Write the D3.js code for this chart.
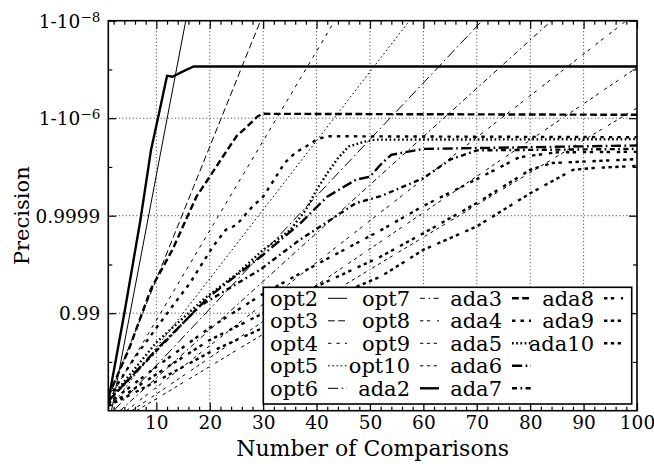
<!DOCTYPE html>
<html>
<head>
<meta charset="utf-8">
<script src="https://cdn.jsdelivr.net/npm/d3@7"></script>
<style>
body { margin: 0; background: #fff; }
svg { display: block; }
text { font-family: "DejaVu Serif", serif; fill: #000; }
</style>
</head>
<body>
<div class="chartfield"></div>
<script>
// x = number of comparisons, y = -log10(1 - precision)
var xTicks = [10, 20, 30, 40, 50, 60, 70, 80, 90, 100];
var xMinor = [2, 4, 6, 8, 12, 14, 16, 18, 22, 24, 26, 28, 32, 34, 36, 38, 42, 44, 46, 48,
              52, 54, 56, 58, 62, 64, 66, 68, 72, 74, 76, 78, 82, 84, 86, 88, 92, 94, 96, 98];
var yTicks = [2, 4, 6, 8];
var yMinor = [1, 3, 5, 7];
var yTickBase = ["0.99", "0.9999", "1-10", "1-10"];
var yTickExp = ["", "", "\u22126", "\u22128"];

// opt lines (straight), [comparisons, -log10(1-precision)]
var opt2 = [[1.6, 0], [15.5, 8]];
var opt3 = [[1, 0.25], [29.5, 8]];
var opt4 = [[1, 0.2], [43.4, 8]];
var opt5 = [[1, 0.02], [57.4, 8]];
var opt6 = [[2, 0], [71, 8]];
var opt7 = [[3.2, 0], [84, 8]];
var opt8 = [[4.4, 0], [98, 8]];
var opt9 = [[5.4, 0], [100, 7.04]];
var opt10 = [[6.3, 0], [100, 6.21]];

// ada lines
var ada2 = [[1, 0.2], [4, 2.0], [7, 3.9], [9, 5.35], [10.5, 6.1], [12, 6.87], [13, 6.85], [15, 6.96], [17, 7.06], [100, 7.06]];
var ada3 = [[1, 0.3], [5, 1.3], [9, 2.5], [13, 3.3], [17.5, 4.39], [20, 4.8], [22.5, 5.22], [25, 5.63], [27, 5.83], [29, 6.04], [30, 6.09], [100, 6.07]];
var ada4 = [[1, 0.25], [6, 1.1], [12.5, 2.07], [16.3, 2.62], [20.6, 3.37], [23, 3.71], [25, 3.81], [28, 4.19], [30, 4.39], [32, 4.73], [34, 5.08], [36, 5.29], [38, 5.42], [40, 5.56], [42, 5.63], [100, 5.61]];
var ada5 = [[1, 0.2], [10, 1.4], [19, 2.3], [25, 2.8], [30, 3.3], [35, 3.7], [38, 4.12], [40, 4.53], [42, 4.87], [44, 5.18], [46, 5.42], [49, 5.52], [51, 5.56], [100, 5.57]];
var ada6 = [[1, 0.2], [10, 1.25], [20, 2.35], [30, 3.2], [37, 3.85], [42, 4.39], [47.4, 4.74], [50, 4.8], [52, 5.05], [54, 5.25], [60, 5.37], [100, 5.44]];
var ada7 = [[1, 0.2], [6, 0.77], [18, 2.14], [29.4, 2.89], [36.8, 3.5], [47.4, 4.26], [52, 4.4], [60, 4.77], [65, 5.15], [70, 5.34], [100, 5.37]];
var ada8 = [[1, 0.15], [10, 0.9], [20, 1.7], [30, 2.4], [40, 3.0], [52, 3.7], [60, 4.2], [70, 4.75], [78, 5.2], [85, 5.3], [100, 5.31]];
var ada9 = [[1, 0.1], [10, 0.75], [20, 1.45], [30, 2.0], [40, 2.55], [52, 3.16], [60, 3.64], [70, 4.26], [80, 4.94], [84, 5.08], [100, 5.16]];
var ada10 = [[1, 0.1], [10, 0.6], [20, 1.2], [30, 1.7], [40, 2.2], [52, 2.75], [60, 3.3], [70, 3.78], [80, 4.46], [88, 4.94], [92, 4.98], [100, 5.02]];

var names = ["opt2", "opt3", "opt4", "opt5", "opt6", "opt7", "opt8", "opt9", "opt10",
             "ada2", "ada3", "ada4", "ada5", "ada6", "ada7", "ada8", "ada9", "ada10"];
var series = [opt2, opt3, opt4, opt5, opt6, opt7, opt8, opt9, opt10,
              ada2, ada3, ada4, ada5, ada6, ada7, ada8, ada9, ada10];

var width = 654, height = 466;
var pLeft = 108.3, pRight = 637, pTop = 20.7, pBottom = 410.7;

// gnuplot style dash patterns, by k
var dashes = {
	2: null,
	3: "6.8,3.4",
	4: "3.4,5.1",
	5: "1.7,2.5",
	6: "10.2,3.4,1.7,3.4",
	7: "5.1,3.4,1.7,3.4",
	8: "3.4,3.4,3.4,6.8",
	9: "3.4,3.4,3.4,3.4,3.4,6.8",
	10: "3.4,3.4,3.4,3.4,3.4,3.4,3.4,6.8"
};
function kOf(name) { return +name.replace(/[a-z]/g, ""); }
function widthOf(name) { return name.indexOf("ada") == 0 ? 2.4 : 1; }

var x = d3.scaleLinear().domain([1, 100]).range([pLeft, pRight]);
var y = d3.scaleLinear().domain([0, 8]).range([pBottom, pTop]);

var svg = d3.select(".chartfield").append("svg")
	.attr("width", width)
	.attr("height", height);

svg.append("defs").append("clipPath").attr("id", "plotclip")
	.append("rect")
	.attr("x", pLeft).attr("y", pTop)
	.attr("width", pRight - pLeft).attr("height", pBottom - pTop);

// grid
var grid = svg.append("g").attr("stroke", "#000").attr("stroke-width", 0.8).attr("stroke-dasharray", "1,2.5");
grid.selectAll("line.gx").data(xTicks.slice(0, -1)).enter().append("line")
	.attr("class", "gx")
	.attr("x1", function(d) { return x(d); }).attr("x2", function(d) { return x(d); })
	.attr("y1", pTop).attr("y2", pBottom);
grid.selectAll("line.gy").data(yTicks.slice(0, -1)).enter().append("line")
	.attr("class", "gy")
	.attr("x1", pLeft).attr("x2", pRight)
	.attr("y1", function(d) { return y(d); }).attr("y2", function(d) { return y(d); });

// series
var line = d3.line().x(function(d) { return x(d[0]); }).y(function(d) { return y(d[1]); });
var plot = svg.append("g").attr("clip-path", "url(#plotclip)");
plot.selectAll("path").data(series).enter().append("path")
	.attr("d", line)
	.attr("fill", "none")
	.attr("stroke", "#000")
	.attr("stroke-width", function(d, i) { return widthOf(names[i]); })
	.attr("stroke-dasharray", function(d, i) { return dashes[kOf(names[i])]; });

// axes with inward ticks on all four sides
function noDomain(g) { g.select(".domain").remove(); g.selectAll(".tick line").attr("stroke-width", 1.2); }
svg.append("g").attr("transform", "translate(0," + pBottom + ")")
	.call(d3.axisBottom(x).tickValues(xTicks).tickSize(-8).tickPadding(5).tickFormat(d3.format("d")))
	.call(noDomain)
	.selectAll("text").attr("font-size", 18.5).attr("font-family", "DejaVu Serif");
svg.append("g").attr("transform", "translate(0," + pBottom + ")")
	.call(d3.axisBottom(x).tickValues(xMinor).tickSize(-4).tickFormat(""))
	.call(noDomain);
svg.append("g").attr("transform", "translate(0," + pTop + ")")
	.call(d3.axisTop(x).tickValues(xTicks).tickSize(-8).tickFormat(""))
	.call(noDomain);
svg.append("g").attr("transform", "translate(0," + pTop + ")")
	.call(d3.axisTop(x).tickValues(xMinor).tickSize(-4).tickFormat(""))
	.call(noDomain);

var yAxis = svg.append("g").attr("transform", "translate(" + pLeft + ",0)")
	.call(d3.axisLeft(y).tickValues(yTicks).tickSize(-8).tickPadding(8).tickFormat(""))
	.call(noDomain);
yAxis.selectAll(".tick text").each(function(d, i) {
	var t = d3.select(this)
		.attr("font-size", 18.5)
		.attr("font-family", "DejaVu Serif")
		.attr("dy", "0.36em");
	t.append("tspan").text(yTickBase[i]);
	if (yTickExp[i] != "") {
		t.append("tspan").attr("dy", "-0.45em").attr("font-size", 13.5).text(yTickExp[i]);
	}
});
svg.append("g").attr("transform", "translate(" + pLeft + ",0)")
	.call(d3.axisLeft(y).tickValues(yMinor).tickSize(-4).tickFormat(""))
	.call(noDomain);
svg.append("g").attr("transform", "translate(" + pRight + ",0)")
	.call(d3.axisRight(y).tickValues(yTicks).tickSize(-8).tickFormat(""))
	.call(noDomain);
svg.append("g").attr("transform", "translate(" + pRight + ",0)")
	.call(d3.axisRight(y).tickValues(yMinor).tickSize(-4).tickFormat(""))
	.call(noDomain);

// frame
svg.append("rect")
	.attr("x", pLeft).attr("y", pTop)
	.attr("width", pRight - pLeft).attr("height", pBottom - pTop)
	.attr("fill", "none").attr("stroke", "#000").attr("stroke-width", 1.6);

// axis titles
svg.append("text")
	.attr("x", (pLeft + pRight) / 2).attr("y", 456)
	.attr("text-anchor", "middle").attr("font-size", 22)
	.text("Number of Comparisons");
svg.append("text")
	.attr("transform", "translate(29," + ((pTop + pBottom) / 2) + ") rotate(-90)")
	.attr("text-anchor", "middle").attr("font-size", 21)
	.text("Precision");

// legend
var lg = svg.append("g");
var lgX = 263.3, lgY = 287.3, lgW = 368.4, lgH = 116.7;
lg.append("rect")
	.attr("x", lgX).attr("y", lgY).attr("width", lgW).attr("height", lgH)
	.attr("fill", "#fff").attr("stroke", "#000").attr("stroke-width", 1.6);
var colRight = [318, 410, 502, 594];
var rowY = [298.3, 320.8, 343.3, 365.8, 388.3];
var items = lg.selectAll("g.item").data(names).enter().append("g").attr("class", "item");
items.append("text")
	.attr("x", function(d, i) { return colRight[Math.floor(i / 5)]; })
	.attr("y", function(d, i) { return rowY[i % 5]; })
	.attr("dy", "0.36em")
	.attr("text-anchor", "end")
	.attr("font-size", 21)
	.text(function(d) { return d; });
items.append("line")
	.attr("x1", function(d, i) { return colRight[Math.floor(i / 5)] + 10; })
	.attr("x2", function(d, i) { return colRight[Math.floor(i / 5)] + 29; })
	.attr("y1", function(d, i) { return rowY[i % 5]; })
	.attr("y2", function(d, i) { return rowY[i % 5]; })
	.attr("stroke", "#000")
	.attr("stroke-width", function(d) { return widthOf(d); })
	.attr("stroke-dasharray", function(d) { return dashes[kOf(d)]; });
</script>
</body>
</html>
